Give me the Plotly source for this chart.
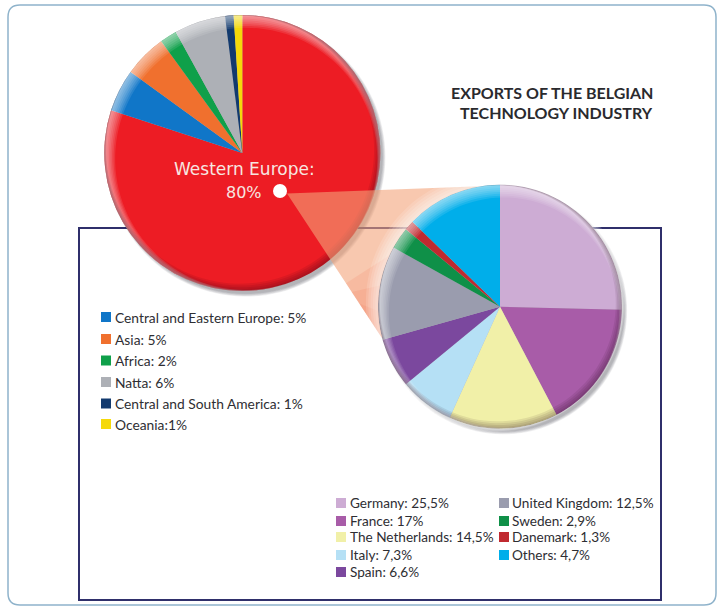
import numpy as np
import plotly.graph_objects as go

W, H = 724, 609

# ---- data ----
world_labels = ["Western Europe", "Central and Eastern Europe", "Asia", "Africa", "Natta", "Central and South America", "Oceania"]
world_values = [80, 5, 5, 2, 6, 1, 1]
world_colors = ["#ED1C24", "#1076C8", "#F0702E", "#0FA04A", "#ADB0B6", "#123A6E", "#F5D90A"]
world_legend = ["Central and Eastern Europe: 5%", "Asia: 5%", "Africa: 2%", "Natta: 6%",
                "Central and South America: 1%", "Oceania:1%"]

west_labels = ["Germany", "France", "The Netherlands", "Italy", "Spain", "United Kingdom", "Sweden", "Danemark", "Others"]
west_values = [25.5, 17, 14.5, 7.3, 6.6, 12.5, 2.9, 1.3, 12.8]
west_colors = ["#CDACD4", "#A85CA8", "#F1F0A8", "#B5E0F5", "#7B489E", "#9A9CAE", "#0F9048", "#C02A30", "#00AEEA"]
west_legend = ["Germany: 25,5%", "France: 17%", "The Netherlands: 14,5%", "Italy: 7,3%", "Spain: 6,6%",
               "United Kingdom: 12,5%", "Sweden: 2,9%", "Danemark: 1,3%", "Others: 4,7%"]

title_lines = ["EXPORTS OF THE BELGIAN", "TECHNOLOGY INDUSTRY"]
callout_lines = ["Western Europe:", "80%"]

# ---- geometry (pixels) ----
C1, R1 = (242.3, 153.0), 138
C2, R2 = (500.0, 306.7), 122
FONT = "Lato, 'Open Sans', sans-serif"


def px(x):
    return x / W


def py(y):
    return 1 - y / H


def domain(c, r):
    return dict(x=[px(c[0] - r), px(c[0] + r)], y=[py(c[1] + r), py(c[1] - r)])


def circle_pts(c, r, a0=0, a1=360, n=120):
    t = np.radians(np.linspace(a0, a1, n))
    return c[0] + r * np.cos(t), c[1] + r * np.sin(t)


def poly(xs, ys):
    return "M" + " L".join(f"{px(x):.5f},{py(y):.5f}" for x, y in zip(xs, ys)) + " Z "


def crescent(c, r, width, ux, uy):
    """Ring of radius r, widest (width) on the side opposite (ux, uy)."""
    xo, yo = circle_pts(c, r)
    cin = (c[0] + ux * width / 2, c[1] + uy * width / 2)
    xi, yi = circle_pts(cin, r - width / 2)
    return poly(xo, yo) + poly(xi[::-1], yi[::-1])


def path_shape(path, fill, layer="above"):
    return dict(type="path", xref="paper", yref="paper", path=path, fillcolor=fill,
                line=dict(width=0), layer=layer)


shapes = []

# outer rounded frame
l, t, r_, b, k = 8, 5, 716, 605, 12
qx = lambda v: f"{px(v):.5f}"
qy = lambda v: f"{py(v):.5f}"
shapes.append(dict(type="path", xref="paper", yref="paper", layer="below",
                   path=(f"M{qx(l+k)},{qy(t)} L{qx(r_-k)},{qy(t)} Q{qx(r_)},{qy(t)} {qx(r_)},{qy(t+k)} "
                         f"L{qx(r_)},{qy(b-k)} Q{qx(r_)},{qy(b)} {qx(r_-k)},{qy(b)} "
                         f"L{qx(l+k)},{qy(b)} Q{qx(l)},{qy(b)} {qx(l)},{qy(b-k)} "
                         f"L{qx(l)},{qy(t+k)} Q{qx(l)},{qy(t)} {qx(l+k)},{qy(t)} Z"),
                   line=dict(color="#8FB3CB", width=1.5), fillcolor="white"))

# inner navy frame
shapes.append(dict(type="rect", xref="paper", yref="paper", layer="below",
                   x0=px(79), x1=px(661), y0=py(600), y1=py(228),
                   line=dict(color="#2F2F6B", width=2), fillcolor="rgba(0,0,0,0)"))

# drop shadows, bottom right only
for c, rad in ((C1, R1), (C2, R2)):
    for i in range(1, 7):
        xs, ys = circle_pts((c[0] + 3.5, c[1] + 4), rad + i * 0.6 - 2)
        shapes.append(path_shape(poly(xs, ys), "rgba(70,70,80,0.08)", "below"))

# rim bevel on both pies
for c, rad in ((C1, R1), (C2, R2)):
    for w in (2, 4, 6, 8, 10, 12, 14):
        shapes.append(path_shape(crescent(c, rad, w, 0.55, 0.83), "rgba(255,255,255,0.10)"))
    for w in (2, 4, 6, 8):
        shapes.append(path_shape(crescent(c, rad, w, -0.55, -0.83), "rgba(40,0,20,0.085)"))

# connector wedge from the dot to the second pie
apex = (287.0, 193.5)
wx, wy = circle_pts(C2, R2, 260.5, 165.0, 60)
shapes.append(path_shape(poly([apex[0], *wx], [apex[1], *wy]), "rgba(243,163,122,0.6)"))

# deeper salmon towards the lower edge of the wedge, outside the first pie
for a_end, frac in ((205.0, 0.62), (190.0, 0.68), (178.0, 0.76)):
    ax, ay = circle_pts(C2, R2, a_end, 165.0, 30)
    sx = apex[0] + frac * (wx[-1] - apex[0])
    sy = apex[1] + frac * (wy[-1] - apex[1])
    shapes.append(path_shape(poly([sx, *ax], [sy, *ay]), "rgba(240,120,85,0.16)"))

# soft white glow on the upper left of the second pie
for d in (3, 6, 9, 12, 15):
    xo, yo = circle_pts((C2[0] - 0.55 * d / 2 - 0.5, C2[1] - 0.6 * d / 2), R2 + d / 2)
    xi, yi = circle_pts(C2, R2)
    shapes.append(path_shape(poly(xo, yo) + poly(xi[::-1], yi[::-1]), "rgba(255,255,255,0.14)"))

# white dot
shapes.append(dict(type="circle", xref="paper", yref="paper", x0=px(273), x1=px(287), y0=py(198), y1=py(184),
                   fillcolor="white", line=dict(width=0), layer="above"))

annotations = []


def text(x, y, s, size, color="#2E2E33", anchor="left", bold=False, family=FONT):
    annotations.append(dict(xref="paper", yref="paper", x=px(x), y=py(y), xanchor=anchor, yanchor="middle",
                            text=f"<b>{s}</b>" if bold else s, showarrow=False, borderpad=0, borderwidth=0,
                            font=dict(size=size, color=color, family=family)))


def swatch(x, y, color, s=10):
    shapes.append(dict(type="rect", xref="paper", yref="paper", layer="above",
                       x0=px(x), x1=px(x + s), y0=py(y + s / 2), y1=py(y - s / 2),
                       fillcolor=color, line=dict(width=0)))


text(653, 92, title_lines[0], 16, "#2A2A2E", "right", True)
text(653, 112, title_lines[1], 16, "#2A2A2E", "right", True)
text(244, 169, callout_lines[0], 17, "#F7E6E0", "center", family="'DejaVu Sans', sans-serif")
text(244, 192, callout_lines[1], 16, "#F7E6E0", "center", family="'DejaVu Sans', sans-serif")

left_y = [317, 339, 360.5, 382, 403.5, 424]
for lab, col, y in zip(world_legend, world_colors[1:], left_y):
    swatch(101, y, col)
    text(115, y, lab, 13.8)

right_y = [503, 521, 537, 555, 572]
for lab, col, y in zip(west_legend[:5], west_colors[:5], right_y):
    swatch(336, y, col)
    text(350, y, lab, 13.6)
for lab, col, y in zip(west_legend[5:], west_colors[5:], right_y):
    swatch(499, y, col)
    text(512, y, lab, 13.6)


def pie(labels, values, colors, c, r):
    return go.Pie(labels=labels, values=values, sort=False, direction="clockwise", rotation=0,
                  marker=dict(colors=colors, line=dict(width=0)), textinfo="none", hoverinfo="label+value",
                  showlegend=False, domain=domain(c, r))


fig = go.Figure([pie(world_labels, world_values, world_colors, C1, R1),
                 pie(west_labels, west_values, west_colors, C2, R2)])
fig.update_layout(width=W, height=H, margin=dict(l=0, r=0, t=0, b=0), paper_bgcolor="white",
                  showlegend=False, shapes=shapes, annotations=annotations)
fig.write_html("out.html", config=dict(displayModeBar=False),
               post_script="document.body.style.margin='0';document.body.style.overflow='hidden';")
